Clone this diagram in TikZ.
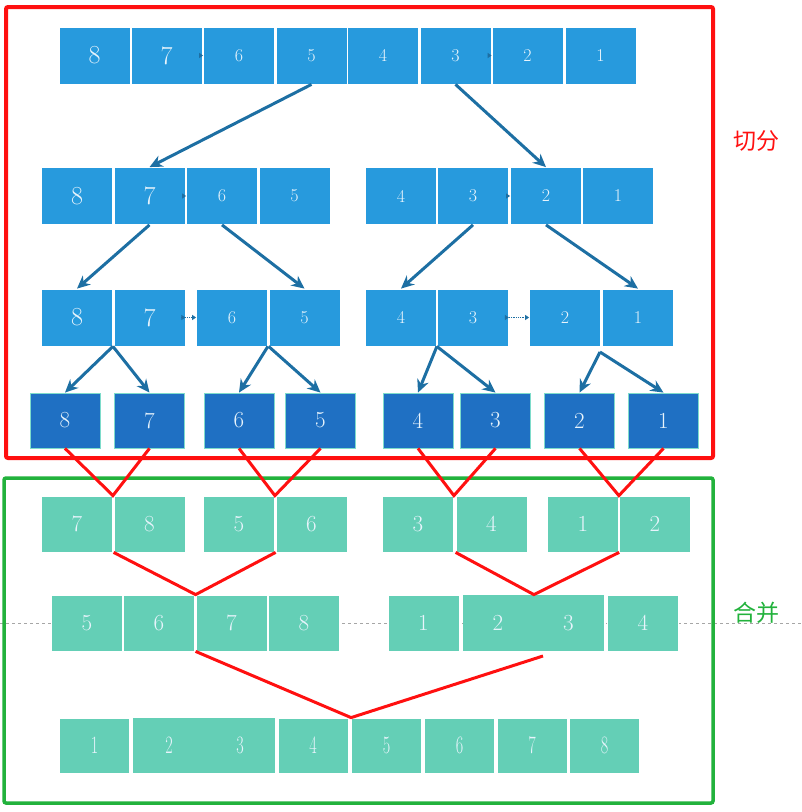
\documentclass[tikz,border=0pt]{standalone}
\usepackage{fontspec}
\usepackage{graphicx}
\newfontfamily\cjk{Noto Sans CJK SC}
\usetikzlibrary{arrows.meta}
\definecolor{lblue}{HTML}{279ADD}
\definecolor{dblue}{HTML}{1F70C3}
\definecolor{tealc}{HTML}{64CFB6}
\definecolor{numc}{HTML}{E8F4FC}
\definecolor{bordc}{HTML}{7EDCCB}
\definecolor{arrc}{HTML}{1D6FA3}
\definecolor{redc}{HTML}{FF1010}
\definecolor{grnc}{HTML}{22B23C}
\tikzset{
  cell/.style={minimum width=71pt, minimum height=57pt, inner sep=0pt, draw=white, line width=0.8pt, text=numc},
  bl/.style={cell, fill=lblue},
  dk/.style={cell, fill=dblue, draw=bordc, minimum width=70pt, minimum height=55pt},
  gr/.style={cell, fill=tealc, minimum height=56pt},
  nb/.style={draw=none},
  big/.style={font=\fontsize{26}{26}\selectfont},
  sm/.style={font=\fontsize{18}{18}\selectfont},
  md/.style={font=\fontsize{23}{23}\selectfont},
  lg/.style={font=\fontsize{25}{25}\selectfont},
  barr/.style={draw=arrc, line width=3pt, -{Stealth[length=13pt,width=12pt]}},
  tarr/.style={draw=arrc, line width=0.8pt, -{Triangle[length=4pt,width=5pt]}},
  rl/.style={draw=redc, line width=3pt, line join=miter},
}
\begin{document}
\begin{tikzpicture}[x=1pt,y=-1pt]
\useasboundingbox (0,0) rectangle (802,812);
% dashed guide line
\coordinate (dl) at (0,623);
\coordinate (dr) at (802,623);
\draw[gray!70, dashed, line width=0.6pt] (dl) -- (dr);
% frames
\draw[redc, line width=4pt, rounded corners=2pt] (6,7) rectangle (713,458);
\draw[grnc, line width=3.5pt, rounded corners=2pt] (4,478) rectangle (713,803);
% labels
\node[text=redc, font=\cjk\fontsize{23}{23}\selectfont] (lab1) at (756,141) {切分};
\node[text=grnc, font=\cjk\fontsize{23}{23}\selectfont] (lab2) at (756,613) {合并};
% row 1
\node[bl,big] (r1c1) at (94.5,55.5) {8};
\node[bl,big] (r1c2) at (166.5,55.5) {7};
\node[bl,sm] (r1c3) at (239,55.5) {6};
\node[bl,sm] (r1c4) at (311.5,55.5) {5};
\node[bl,sm] (r1c5) at (383,55.5) {4};
\node[bl,sm] (r1c6) at (455.5,55.5) {3};
\node[bl,sm] (r1c7) at (527.5,55.5) {2};
\node[bl,sm] (r1c8) at (600.5,55.5) {1};
% row 2
\node[bl,big] (r2c1) at (77,196) {8};
\node[bl,big] (r2c2) at (149.5,196) {7};
\node[bl,sm] (r2c3) at (222,196) {6};
\node[bl,sm] (r2c4) at (294.5,196) {5};
\node[bl,sm] (r2c5) at (401,196) {4};
\node[bl,sm] (r2c6) at (473,196) {3};
\node[bl,sm] (r2c7) at (546,196) {2};
\node[bl,sm] (r2c8) at (618,196) {1};
% row 3
\node[bl,big] (r3c1) at (77,317.5) {8};
\node[bl,big] (r3c2) at (149.5,317.5) {7};
\node[bl,sm] (r3c3) at (232,317.5) {6};
\node[bl,sm] (r3c4) at (304.5,317.5) {5};
\node[bl,sm] (r3c5) at (401,317.5) {4};
\node[bl,sm] (r3c6) at (473,317.5) {3};
\node[bl,sm] (r3c7) at (565,317.5) {2};
\node[bl,sm] (r3c8) at (638,317.5) {1};
% row 4
\node[dk,md] (r4c1) at (65,420.5) {8};
\node[dk,md] (r4c2) at (149.5,420.5) {7};
\node[dk,md] (r4c3) at (239,420.5) {6};
\node[dk,md] (r4c4) at (320.5,420.5) {5};
\node[dk,md] (r4c5) at (418,420.5) {4};
\node[dk,md] (r4c6) at (495.5,420.5) {3};
\node[dk,md] (r4c7) at (579.5,420.5) {2};
\node[dk,md] (r4c8) at (663.5,420.5) {1};
% row 5
\node[gr,md] (r5c1) at (77,524) {7};
\node[gr,md] (r5c2) at (149.5,524) {8};
\node[gr,md] (r5c3) at (239,524) {5};
\node[gr,md] (r5c4) at (311.5,524) {6};
\node[gr,md] (r5c5) at (418,524) {3};
\node[gr,md] (r5c6) at (491.5,524) {4};
\node[gr,md] (r5c7) at (583,524) {1};
\node[gr,md] (r5c8) at (655,524) {2};
% row 6
\node[gr,md] (r6c1) at (87,623) {5};
\node[gr,md] (r6c2) at (159,623) {6};
\node[gr,md] (r6c3) at (231.5,623) {7};
\node[gr,md] (r6c4) at (304,623) {8};
\node[gr,md] (r6c5) at (423.5,623) {1};
\node[gr,md,nb] (r6c6) at (498,623) {2};
\node[gr,md,nb] (r6c7) at (568.5,623) {3};
\node[gr,md] (r6c8) at (643,623) {4};
% row 7
\node[gr,lg,minimum width=70pt,minimum height=55pt] (r7c1) at (94.5,745.5) {\scalebox{0.65}[1]{1}};
\node[gr,lg,nb,minimum width=72pt,minimum height=55pt] (r7c2) at (169,745.5) {\scalebox{0.65}[1]{2}};
\node[gr,lg,nb,minimum width=70pt,minimum height=55pt] (r7c3) at (240,745.5) {\scalebox{0.65}[1]{3}};
\node[gr,lg,minimum width=70pt,minimum height=55pt] (r7c4) at (313,745.5) {\scalebox{0.65}[1]{4}};
\node[gr,lg,minimum width=70pt,minimum height=55pt] (r7c5) at (386.5,745.5) {\scalebox{0.65}[1]{5}};
\node[gr,lg,minimum width=70pt,minimum height=55pt] (r7c6) at (459.5,745.5) {\scalebox{0.65}[1]{6}};
\node[gr,lg,minimum width=70pt,minimum height=55pt] (r7c7) at (532,745.5) {\scalebox{0.65}[1]{7}};
\node[gr,lg,minimum width=70pt,minimum height=55pt] (r7c8) at (604.5,745.5) {\scalebox{0.65}[1]{8}};
% small arrowheads between boxes
\draw[tarr] ([xshift=-4pt]r1c3.west) -- (r1c3.west);
\draw[tarr] ([xshift=-4pt]r1c7.west) -- (r1c7.west);
\draw[tarr] ([xshift=-4pt]r2c3.west) -- (r2c3.west);
\draw[tarr] ([xshift=-4pt]r2c7.west) -- (r2c7.west);
\draw[tarr, densely dotted] (r3c2.east) -- (r3c3.west);
\draw[tarr] ([xshift=-4pt]r3c2.east) -- (r3c2.east);
\draw[tarr, densely dotted] (r3c6.east) -- (r3c7.west);
\draw[tarr] ([xshift=-4pt]r3c6.east) -- (r3c6.east);
% split arrows
\draw[barr] (r1c4.south) -- (r2c2.north);
\draw[barr] (r1c6.south) -- (r2c7.north);
\draw[barr] (r2c2.south) -- (r3c1.north);
\draw[barr] (r2c3.south) -- (r3c4.north);
\draw[barr] (r2c6.south) -- (r3c5.north);
\draw[barr] (r2c7.south) -- (r3c8.north);
\draw[barr] (r3c1.south east) -- (r4c1.north);
\draw[barr] (r3c1.south east) -- (r4c2.north);
\draw[barr] (r3c3.south east) -- (r4c3.north);
\draw[barr] (r3c4.south west) -- (r4c4.north);
\draw[barr] (r3c5.south east) -- (r4c5.north);
\draw[barr] (r3c5.south east) -- (r4c6.north);
\coordinate (j4) at (600,352);
\draw[barr] (j4) -- (r4c7.north);
\draw[barr] (j4) -- (r4c8.north);
% merge lines
\draw[rl] (r4c1.south) -- (r5c1.north east) -- (r4c2.south);
\draw[rl] (r4c3.south) -- (r5c3.north east) -- (r4c4.south);
\draw[rl] (r4c5.south) -- (r5c5.north east) -- (r4c6.south);
\draw[rl] (r4c7.south) -- (r5c7.north east) -- (r4c8.south);
\draw[rl] (r5c2.south west) -- (r6c3.north west) -- (r5c4.south west);
\draw[rl] (r5c6.south west) -- (r6c6.north east) -- (r5c8.south west);
\coordinate (m7) at (543,656);
\draw[rl] (r6c3.south west) -- (r7c5.north west) -- (m7);
\end{tikzpicture}
\end{document}
